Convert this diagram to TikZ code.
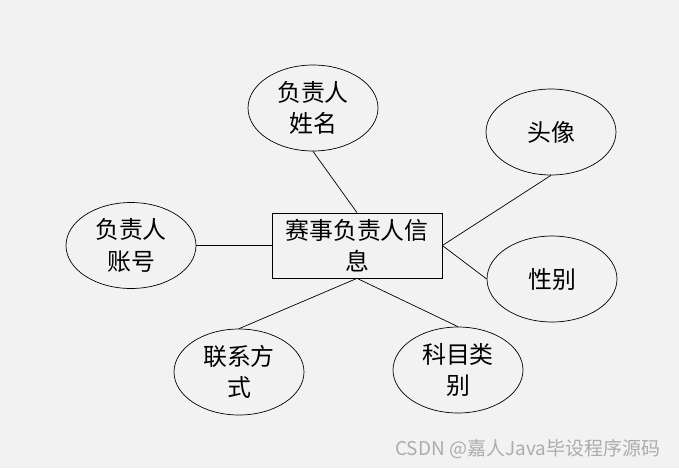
\documentclass[tikz,border=0pt]{standalone}
\usepackage{fontspec}
\setmainfont{Noto Sans CJK SC}
\usetikzlibrary{shapes.geometric}
\definecolor{bg}{HTML}{F2F2F2}
\definecolor{wmgray}{HTML}{ACACAC}

\begin{document}
\begin{tikzpicture}[x=0.02cm,y=-0.02cm,
    attr/.style={ellipse,draw,inner sep=0pt,minimum width=2.6cm,minimum height=1.72cm,
      align=center,font=\fontsize{13.6}{18}\selectfont},
    ent/.style={rectangle,draw,inner sep=0pt,minimum width=3.4cm,minimum height=1.3cm,
      align=center,font=\fontsize{13.6}{18}\selectfont}]
  \useasboundingbox[fill=bg] (0,0) rectangle (679,468);
  % entity
  \node[ent] (info) at (357,245.5) {赛事负责人信\\息};
  % attributes
  \node[attr] (name) at (313,108) {负责人\\姓名};
  \node[attr] (photo) at (551,132) {头像};
  \node[attr] (sex) at (552,279) {性别};
  \node[attr] (acct) at (131,245.5) {负责人\\账号};
  \node[attr] (phone) at (239,372) {联系方\\式};
  \node[attr] (subj) at (458,370) {科目类\\别};
  % connectors
  \draw (name.south) -- (info.north);
  \draw (photo.south) -- (info.east);
  \draw (info.east) -- (sex.west);
  \draw (acct.east) -- (info.west);
  \draw (phone.north) -- (info.south);
  \draw (subj.north) -- (info.south);
  % watermark
  \node[text=wmgray,font=\fontsize{10.8}{13}\selectfont,anchor=west,inner sep=0pt] (wm) at (395,449) {CSDN @嘉人Java毕设程序源码};
\end{tikzpicture}
\end{document}
